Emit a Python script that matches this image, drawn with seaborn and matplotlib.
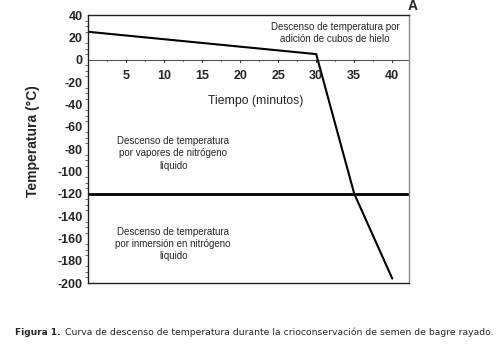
import matplotlib
matplotlib.use("Agg")
import matplotlib.pyplot as plt
import seaborn as sns
import pandas as pd
from matplotlib.ticker import MultipleLocator

sns.set_theme(style="white")
plt.rcParams['font.family'] = ['Liberation Sans', 'DejaVu Sans']

tiempo = [0, 30, 35, 40]
temperatura = [25, 5, -120, -196]
umbral = -120
xticks = [5, 10, 15, 20, 25, 30, 35, 40]
yticks = [40, 20, 0, -20, -40, -60, -80, -100, -120, -140, -160, -180, -200]

df = pd.DataFrame({"Tiempo": tiempo, "Temperatura": temperatura})

fig = plt.figure(figsize=(5.02, 3.47), dpi=100)
ax = fig.add_axes([0.1753, 0.1844, 0.6394, 0.7723])

sns.lineplot(data=df, x="Tiempo", y="Temperatura", ax=ax, color="black", lw=1.5)
ax.axhline(umbral, color="black", lw=2)
ax.axhline(0, color="#555555", lw=0.8, zorder=1)

ax.set_xlim(0, 42.2)
ax.set_ylim(-200, 40)

for s in ['left', 'bottom', 'top']:
    ax.spines[s].set_color('#222222')
    ax.spines[s].set_linewidth(1.0)
ax.spines['right'].set_color('#888888')
ax.spines['right'].set_linewidth(1.0)

ax.set_xticks(xticks)
ax.xaxis.set_minor_locator(MultipleLocator(2.5))
ax.set_yticks(yticks)
ax.set_yticklabels([str(v) for v in yticks], fontsize=9, fontweight='bold')
ax.yaxis.set_minor_locator(MultipleLocator(5))
# x ticks drawn on the zero line
ax.tick_params(axis='x', which='both', bottom=False, labelbottom=False)
for v in [2.5 * i for i in range(1, 17)]:
    major = v in xticks
    ax.plot([v, v], [0, -2.2 if major else -1.4], color='#333333', lw=0.8 if major else 0.6,
            clip_on=False)
for v in xticks:
    ax.text(v, -14.5, str(v), fontsize=9, fontweight='bold', ha='center', va='center')
ax.tick_params(axis='y', which='major', direction='out', length=3, width=0.8, color='#333333', pad=1)
ax.tick_params(axis='y', which='minor', direction='out', length=2, width=0.6, color='#555555', left=True)

ax.set_xlabel("")
ax.set_ylabel("Temperatura (°C)", fontsize=10, fontweight='bold')
ax.yaxis.set_label_coords(-0.15, 0.53)

ax.text(22.1, -37, "Tiempo (minutos)", fontsize=8.8, ha='center', va='center')
ax.text(32.5, 24, "Descenso de temperatura por\nadición de cubos de hielo",
        fontsize=7, ha='center', va='center', linespacing=1.3)
ax.text(11.2, -84, "Descenso de temperatura\npor vapores de nitrógeno\nlíquido",
        fontsize=7, ha='center', va='center', linespacing=1.3)
ax.text(11.2, -165, "Descenso de temperatura\npor inmersión en nitrógeno\nlíquido",
        fontsize=7, ha='center', va='center', linespacing=1.3)
ax.text(1.012, 1.008, "A", transform=ax.transAxes, fontsize=10, fontweight='bold',
        ha='center', va='bottom')

fig.text(0.03, 0.043, "Figura 1.", fontsize=6.5, fontweight='bold', ha='left', va='center',
         family='DejaVu Sans')
fig.text(0.1295, 0.043,
         "Curva de descenso de temperatura durante la crioconservación de semen de bagre rayado.",
         fontsize=6.66, ha='left', va='center', family='DejaVu Sans')

fig.savefig("out.png", dpi=100)
